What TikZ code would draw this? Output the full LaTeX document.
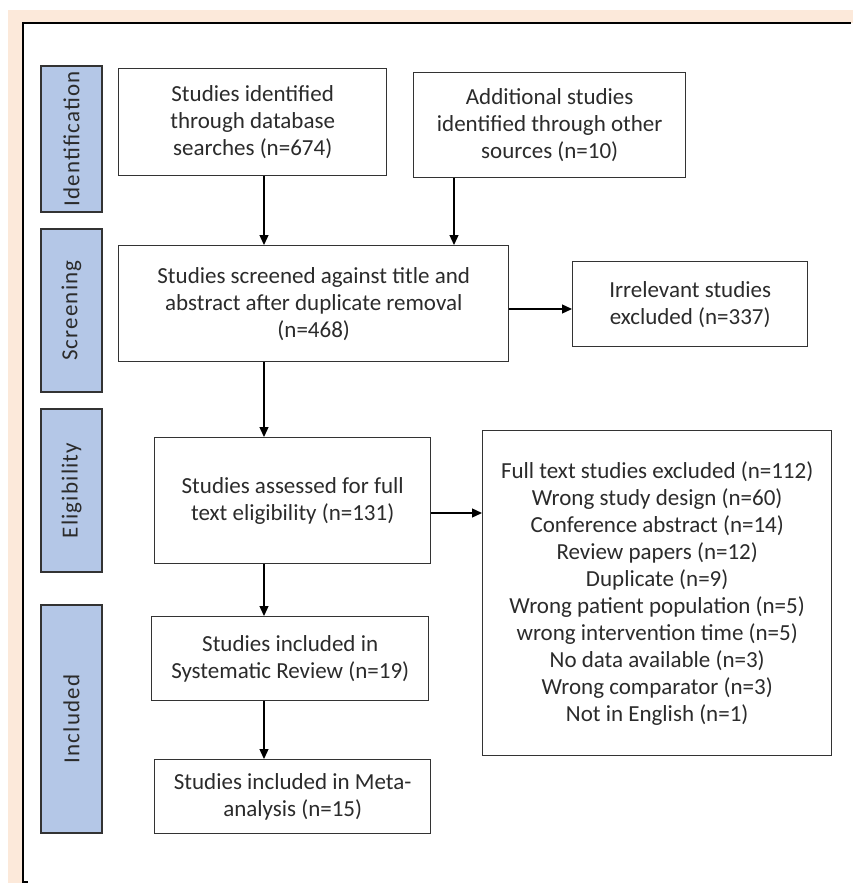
\documentclass[tikz,border=0pt]{standalone}
\usepackage{fontspec}
\setmainfont{Carlito}
\newfontfamily\stagefont[LetterSpace=5]{Carlito}
\usetikzlibrary{arrows.meta,positioning,calc}
\definecolor{peach}{HTML}{FCE9DA}
\definecolor{stageblue}{HTML}{B4C7E7}
\definecolor{boxline}{HTML}{333333}
\definecolor{inktext}{HTML}{2B2B2B}

\begin{document}
\begin{tikzpicture}[
  x=1pt, y=-1pt,
  font=\fontsize{23}{27}\selectfont,
  >={Triangle[length=10pt,width=9pt]},
  stagecard/.style={
    draw=boxline,
    fill=stageblue,
    line width=1.4pt,
    rotate=90,
    minimum height=61pt,
    inner sep=0pt,
    font=\stagefont\fontsize{23}{27}\selectfont,
    text=inktext
  },
  flowbox/.style={
    draw=boxline,
    fill=white,
    line width=1.4pt,
    anchor=north west,
    inner sep=0pt,
    align=center,
    text=inktext
  },
  flowarrow/.style={
    ->,
    line width=1.3pt,
    draw=black
  }
]
  \useasboundingbox (0,0) rectangle (853,883);

  % ----------------------------------------------------
  % PAGE FRAME
  % ----------------------------------------------------
  \fill[peach] (8,10) rectangle (853,883);
  \fill[white] (23,23) rectangle (853,883);
  \draw[line width=1.4pt] (851,23) -- (23,23) -- (23,882) -- (28,882);

  % ----------------------------------------------------
  % STAGE LABELS (left column)
  % ----------------------------------------------------
  \node[stagecard, minimum width=146pt] (identification) at (71.5,139) {Identification};
  \node[stagecard, minimum width=163pt] (screening) at (71.5,310.5) {Screening};
  \node[stagecard, minimum width=163pt] (eligibility) at (71.5,490.5) {Eligibility};
  \node[stagecard, minimum width=228pt] (included) at (71.5,719) {Included};

  % ----------------------------------------------------
  % FLOW BOXES
  % ----------------------------------------------------
  % Identification
  \node[flowbox, minimum width=268pt, minimum height=107pt] (dbsearch) at (118,68) {
    Studies identified\\through database\\searches (n=674)};
  \node[flowbox, minimum width=272pt, minimum height=105pt] (othersrc) at (413,72) {
    Additional studies\\identified through other\\sources (n=10)};

  % Screening
  \node[flowbox, minimum width=390pt, minimum height=116pt] (screened) at (118,245) {
    Studies screened against title and\\abstract after duplicate removal\\(n=468)};
  \node[flowbox, minimum width=235pt, minimum height=85pt] (irrelevant) at (572,261) {
    Irrelevant studies\\excluded (n=337)};

  % Eligibility
  \node[flowbox, minimum width=276pt, minimum height=126pt] (assessed) at (154,437) {
    Studies assessed for full\\text eligibility (n=131)};
  \node[flowbox, minimum width=349pt, minimum height=325pt] (fulltext) at (482,430) {
    Full text studies excluded (n=112)\\
    Wrong study design (n=60)\\
    Conference abstract (n=14)\\
    Review papers (n=12)\\
    Duplicate (n=9)\\
    Wrong patient population (n=5)\\
    wrong intervention time (n=5)\\
    No data available (n=3)\\
    Wrong comparator (n=3)\\
    Not in English (n=1)};

  % Included
  \node[flowbox, minimum width=277pt, minimum height=84pt] (sysreview) at (151,616) {
    Studies included in\\Systematic Review (n=19)};
  \node[flowbox, minimum width=276pt, minimum height=74pt] (metaanalysis) at (154,759) {
    Studies included in Meta-\\analysis (n=15)};

  % ----------------------------------------------------
  % CONNECTORS
  % ----------------------------------------------------
  \coordinate (spine) at (264,0);
  \coordinate (otherdrop) at (454,0);
  \coordinate (screenrow) at (0,309);
  \coordinate (fulltextrow) at (0,513);

  \draw[flowarrow] (dbsearch.south -| spine) -- (screened.north -| spine);
  \draw[flowarrow] (othersrc.south -| otherdrop) -- (screened.north -| otherdrop);
  \draw[flowarrow] (screened.south -| spine) -- (assessed.north -| spine);
  \draw[flowarrow] (assessed.south -| spine) -- (sysreview.north -| spine);
  \draw[flowarrow] (sysreview.south -| spine) -- (metaanalysis.north -| spine);

  \draw[flowarrow] (screened.east |- screenrow) -- (irrelevant.west |- screenrow);
  \draw[flowarrow] (assessed.east |- fulltextrow) -- (fulltext.west |- fulltextrow);

\end{tikzpicture}
\end{document}
